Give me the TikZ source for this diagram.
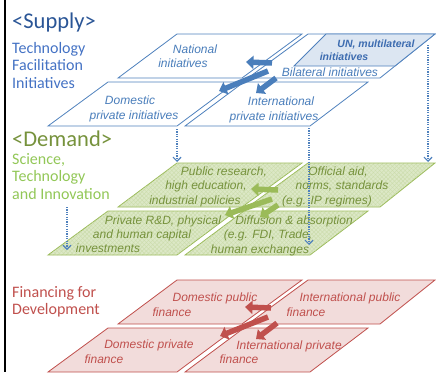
\documentclass[tikz,border=0pt]{standalone}
\usepackage{fontspec}
\setmainfont{Liberation Sans}
\newfontfamily\calfont{Carlito}
\usetikzlibrary{arrows.meta,patterns.meta}
\definecolor{supline}{HTML}{4F81BD}
\definecolor{suptext}{HTML}{4A7EBB}
\definecolor{untext}{HTML}{3D6CB0}
\definecolor{unfill}{HTML}{DCE6F2}
\definecolor{suphead}{HTML}{2A5596}
\definecolor{supsub}{HTML}{4472C4}
\definecolor{supArrow}{HTML}{4A7EBB}
\definecolor{demline}{HTML}{9BBB59}
\definecolor{demfill}{HTML}{DCE8C6}
\definecolor{demhatch}{HTML}{CADBA9}
\definecolor{demtext}{HTML}{76923C}
\definecolor{demhead}{HTML}{76923C}
\definecolor{demsub}{HTML}{92C757}
\definecolor{demArrow}{HTML}{9BBB59}
\definecolor{finline}{HTML}{C0504D}
\definecolor{finfill}{HTML}{F2DCDB}
\definecolor{fintext}{HTML}{C0504D}
\definecolor{finArrow}{HTML}{C0504D}
\begin{document}
\begin{tikzpicture}[x=1pt,y=-1pt,
  lbl/.style={font=\fontsize{12}{14}\selectfont\itshape, inner sep=0pt, text height=9pt, text depth=2.5pt, anchor=center},
  unlbl/.style={lbl, font=\fontsize{10.5}{12}\selectfont\itshape\bfseries, text=untext},
  head/.style={font=\calfont\fontsize{22.5}{26}\selectfont, anchor=base west, inner sep=0pt},
  sub/.style={font=\calfont\fontsize{16}{18}\selectfont, anchor=base west, inner sep=0pt},
  supshape/.style={draw=supline, line width=0.8pt, fill=white},
  demshape/.style={draw=demline, line width=0.8pt, preaction={fill=demfill},
     pattern={Lines[angle=45,distance=3pt,line width=0.35pt]}, pattern color=demhatch,
     postaction={pattern={Lines[angle=-45,distance=3pt,line width=0.35pt]}, pattern color=demhatch}},
  finshape/.style={draw=finline, line width=0.8pt, fill=finfill},
  blockarrow/.style={line width=5.5pt, -{Triangle[length=7.5pt,width=13pt]}},
  dotarrow/.style={draw=supline, line width=1.2pt, dash pattern=on 1.2pt off 1.2pt, -{Straight Barb[length=4pt,width=8pt]}}
]
\useasboundingbox (0,0) rectangle (436,372);
\draw[line width=2.2pt] (5,0) -- (5,372);

% ---------------- Supply ----------------
\begin{scope}[shift={(0,34)}]
\draw[supshape] (177,0) -- (302,0) -- (242,44) -- (118,44) -- cycle;
\draw[supshape] (308,0) -- (435,0) -- (380,44) -- (248,44) -- cycle;
\draw[supshape, fill=unfill] (326,0) -- (435,0) -- (395,32) -- (294,32) -- cycle;
\draw[supshape] (108,48) -- (236,48) -- (177,92) -- (48,92) -- cycle;
\draw[supshape] (244,48) -- (368,48) -- (310,92) -- (185,92) -- cycle;
\coordinate (s1a) at (272,29); \coordinate (s1b) at (246,28);
\coordinate (s2a) at (268,37); \coordinate (s2b) at (219,57);
\coordinate (s3a) at (276,44); \coordinate (s3b) at (256,59);
\end{scope}
\node[head, text=suphead] (supH) at (12,28) {<Supply>};
\node[sub, text=supsub] (supS1) at (12,53) {Technology};
\node[sub, text=supsub] (supS2) at (12,70.5) {Facilitation};
\node[sub, text=supsub] (supS3) at (12,88) {Initiatives};
\node[lbl, text=suptext] (nat1) at (195,50) {National};
\node[lbl, text=suptext] (nat2) at (183,64) {initiatives};
\node[unlbl] (un1) at (376,44) {UN, multilateral};
\node[unlbl] (un2) at (344,57) {initiatives};
\node[lbl, text=suptext] (bil) at (330,73) {Bilateral initiatives};
\node[lbl, text=suptext] (dom1) at (130,101) {Domestic};
\node[lbl, text=suptext] (dom2) at (134,116) {private initiatives};
\node[lbl, text=suptext] (int1) at (281,102) {International};
\node[lbl, text=suptext] (int2) at (274,117) {private initiatives};
\draw[blockarrow, draw=supArrow, fill=supArrow] (s1a) -- (s1b);
\draw[blockarrow, draw=supArrow, fill=supArrow] (s2a) -- (s2b);
\draw[blockarrow, draw=supArrow, fill=supArrow] (s3a) -- (s3b);

% ---------------- Demand ----------------
\begin{scope}[shift={(0,163)}]
\path[demshape] (177,0) -- (302,0) -- (242,44) -- (118,44) -- cycle;
\path[demshape] (308,0) -- (435,0) -- (380,44) -- (248,44) -- cycle;
\path[demshape] (108,48) -- (236,48) -- (177,92) -- (48,92) -- cycle;
\path[demshape] (244,48) -- (368,48) -- (310,92) -- (185,92) -- cycle;
\coordinate (d1a) at (278,27); \coordinate (d1b) at (251,26);
\coordinate (d2a) at (272,36); \coordinate (d2b) at (225,52);
\coordinate (d3a) at (278,42); \coordinate (d3b) at (260,54);
\end{scope}
\node[head, text=demhead] (demH) at (12,146) {<Demand>};
\node[sub, text=demsub] (demS1) at (12,164) {Science,};
\node[sub, text=demsub] (demS2) at (12,181.5) {Technology};
\node[sub, text=demsub] (demS3) at (12,199) {and Innovation};
\node[lbl, text=demtext] (pub1) at (224,172) {Public research,};
\node[lbl, text=demtext] (pub2) at (206,186) {high education,};
\node[lbl, text=demtext] (pub3) at (195,201) {industrial policies};
\node[lbl, text=demtext] (off1) at (338,172) {Official aid,};
\node[lbl, text=demtext] (off2) at (342,186) {norms, standards};
\node[lbl, text=demtext] (off3) at (327,201) {(e.g. IP regimes)};
\node[lbl, text=demtext] (prv1) at (163,221) {Private R\&D, physical};
\node[lbl, text=demtext] (prv2) at (142,235) {and human capital};
\node[lbl, text=demtext] (prv3) at (108,249) {investments};
\node[lbl, text=demtext] (dif1) at (294,221) {Diffusion \& absorption};
\node[lbl, text=demtext] (dif2) at (268,235) {(e.g. FDI, Trade,};
\node[lbl, text=demtext] (dif3) at (260,250) {human exchanges};
\draw[blockarrow, draw=demArrow, fill=demArrow] (d1a) -- (d1b);
\draw[blockarrow, draw=demArrow, fill=demArrow] (d2a) -- (d2b);
\draw[blockarrow, draw=demArrow, fill=demArrow] (d3a) -- (d3b);

% ---------------- Finance ----------------
\begin{scope}[shift={(0,280)}]
\draw[finshape] (177,0) -- (302,0) -- (242,44) -- (118,44) -- cycle;
\draw[finshape] (308,0) -- (435,0) -- (380,44) -- (248,44) -- cycle;
\draw[finshape] (108,48) -- (236,48) -- (177,92) -- (48,92) -- cycle;
\draw[finshape] (244,48) -- (368,48) -- (310,92) -- (185,92) -- cycle;
\coordinate (f1a) at (271,28); \coordinate (f1b) at (245,27);
\coordinate (f2a) at (268,37); \coordinate (f2b) at (220,56);
\coordinate (f3a) at (277,43); \coordinate (f3b) at (256,59);
\end{scope}
\node[sub, text=fintext] (finS1) at (12,297) {Financing for};
\node[sub, text=fintext] (finS2) at (12,314) {Development};
\node[lbl, text=fintext] (dpub1) at (215,298) {Domestic public};
\node[lbl, text=fintext] (dpub2) at (172,313) {finance};
\node[lbl, text=fintext] (ipub1) at (350,298) {International public};
\node[lbl, text=fintext] (ipub2) at (306,313) {finance};
\node[lbl, text=fintext] (dprv1) at (149,345) {Domestic private};
\node[lbl, text=fintext] (dprv2) at (104,360) {finance};
\node[lbl, text=fintext] (iprv1) at (289,346) {International private};
\node[lbl, text=fintext] (iprv2) at (239,360) {finance};
\draw[blockarrow, draw=finArrow, fill=finArrow] (f1a) -- (f1b);
\draw[blockarrow, draw=finArrow, fill=finArrow] (f2a) -- (f2b);
\draw[blockarrow, draw=finArrow, fill=finArrow] (f3a) -- (f3b);

% ---------------- dotted arrows ----------------
\coordinate (p1a) at (177,129); \coordinate (p1b) at (177,162);
\coordinate (p2a) at (67,207);  \coordinate (p2b) at (67,250);
\coordinate (p3a) at (309,128); \coordinate (p3b) at (309,245);
\coordinate (p4a) at (428,45);  \coordinate (p4b) at (428,162);
\draw[dotarrow] (p1a) -- (p1b);
\draw[dotarrow] (p2a) -- (p2b);
\draw[dotarrow] (p3a) -- (p3b);
\draw[dotarrow] (p4a) -- (p4b);
\end{tikzpicture}
\end{document}
